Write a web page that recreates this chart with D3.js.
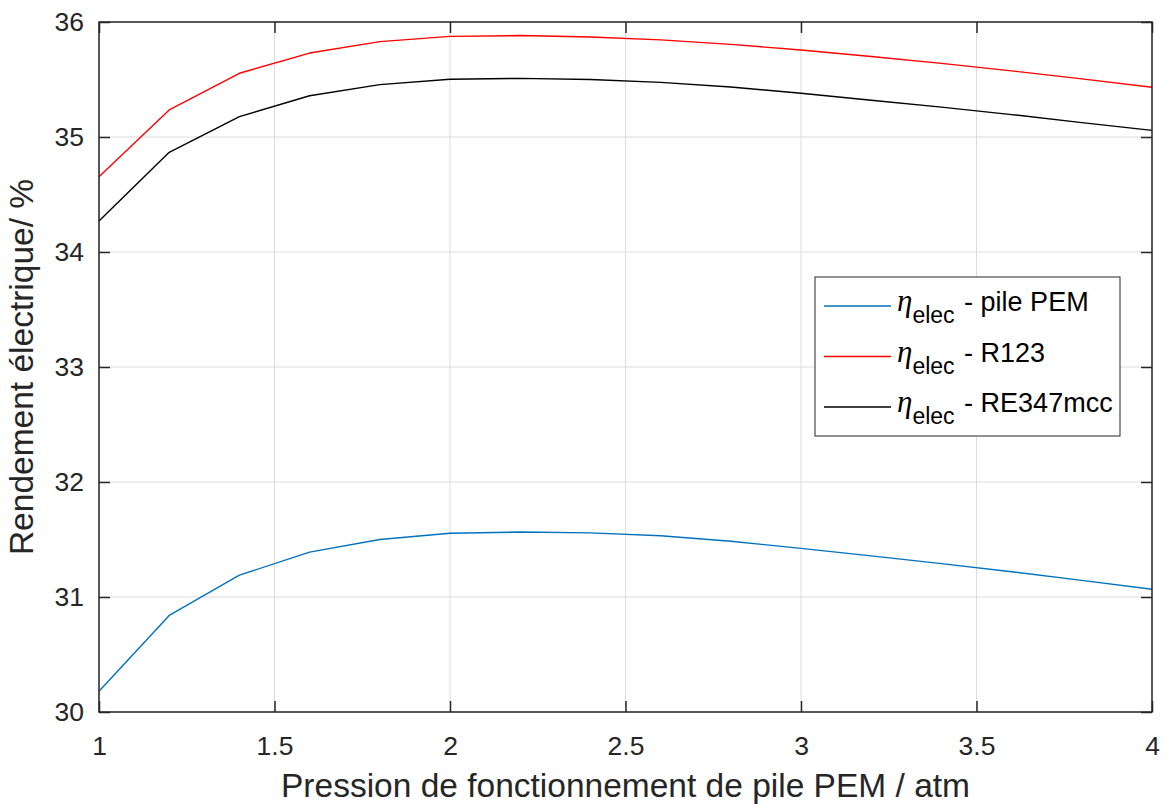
<!DOCTYPE html>
<html>
<head>
<meta charset="utf-8">
<script src="https://cdn.jsdelivr.net/npm/d3@7"></script>
<style>
  body { margin: 0; background: #fff; }
  svg { display: block; font-family: "Liberation Sans", Arial, sans-serif; }
</style>
</head>
<body>
<svg id="chart" width="1170" height="808"></svg>
<script>
// pressure (atm), sampled every 0.2
const pressure = [1, 1.2, 1.4, 1.6, 1.8, 2, 2.2, 2.4, 2.6, 2.8, 3, 3.2, 3.4, 3.6, 3.8, 4];
const effPEM    = [30.18, 30.84, 31.19, 31.39, 31.50, 31.554, 31.565, 31.558, 31.532, 31.485, 31.423, 31.358, 31.29, 31.22, 31.145, 31.067];
const effR123   = [34.655, 35.235, 35.554, 35.73, 35.829, 35.875, 35.882, 35.87, 35.845, 35.805, 35.757, 35.70, 35.64, 35.575, 35.505, 35.432];
const effRE347  = [34.27, 34.867, 35.177, 35.359, 35.455, 35.502, 35.51, 35.50, 35.475, 35.435, 35.38, 35.32, 35.26, 35.195, 35.125, 35.058];
const xTicks = [1, 1.5, 2, 2.5, 3, 3.5, 4];
const yTicks = [30, 31, 32, 33, 34, 35, 36];
const seriesNames = ['pile PEM', 'R123', 'RE347mcc'];
const seriesColors = ['#0072BD', '#FF0000', '#000000'];

const svg = d3.select('#chart');
const m = { left: 99, right: 1152, top: 22, bottom: 712 };
const ink = '#262626';

const x = d3.scaleLinear().domain([1, 4]).range([m.left, m.right]);
const y = d3.scaleLinear().domain([30, 36]).range([m.bottom, m.top]);

svg.append('rect').attr('width', 1170).attr('height', 808).attr('fill', '#fff');

// grid
const grid = svg.append('g').attr('stroke', '#dcdcdc').attr('stroke-width', 1);
grid.selectAll('.gx').data(xTicks).enter().append('line')
  .attr('x1', d => x(d)).attr('x2', d => x(d))
  .attr('y1', m.top).attr('y2', m.bottom);
grid.selectAll('.gy').data(yTicks).enter().append('line')
  .attr('x1', m.left).attr('x2', m.right)
  .attr('y1', d => y(d)).attr('y2', d => y(d));

// lines
const line = d3.line().x((d, i) => x(pressure[i])).y(d => y(d));
[effPEM, effR123, effRE347].forEach((vals, k) => {
  svg.append('path').datum(vals)
    .attr('fill', 'none')
    .attr('stroke', seriesColors[k])
    .attr('stroke-width', 1.4)
    .attr('stroke-linejoin', 'round')
    .attr('d', line);
});

// axes (ticks inside, MATLAB style box)
function styleAxis(g, labels) {
  g.select('.domain').remove();
  g.selectAll('.tick line').attr('stroke', ink).attr('stroke-width', 1.5);
  g.selectAll('.tick text').attr('fill', ink).attr('font-size', 26.5);
  if (!labels) g.selectAll('.tick text').remove();
}
svg.append('g').attr('transform', `translate(0,${m.bottom})`)
  .call(d3.axisBottom(x).tickValues(xTicks).tickSize(-11).tickPadding(24.2).tickFormat(d3.format('')))
  .call(g => styleAxis(g, true));
svg.append('g').attr('transform', `translate(0,${m.top})`)
  .call(d3.axisTop(x).tickValues(xTicks).tickSize(-11))
  .call(g => styleAxis(g, false));
svg.append('g').attr('transform', `translate(${m.left},0)`)
  .call(d3.axisLeft(y).tickValues(yTicks).tickSize(-11).tickPadding(15).tickFormat(d3.format('')))
  .call(g => styleAxis(g, true));
svg.append('g').attr('transform', `translate(${m.right},0)`)
  .call(d3.axisRight(y).tickValues(yTicks).tickSize(-11))
  .call(g => styleAxis(g, false));

svg.append('rect')
  .attr('x', m.left).attr('y', m.top)
  .attr('width', m.right - m.left).attr('height', m.bottom - m.top)
  .attr('fill', 'none').attr('stroke', ink).attr('stroke-width', 1.5);

// axis labels
svg.append('text')
  .attr('x', (m.left + m.right) / 2).attr('y', 797)
  .attr('text-anchor', 'middle').attr('font-size', 33.5).attr('fill', ink)
  .text('Pression de fonctionnement de pile PEM / atm');
svg.append('text')
  .attr('transform', `translate(33,${(m.top + m.bottom) / 2}) rotate(-90)`)
  .attr('text-anchor', 'middle').attr('font-size', 33.5).attr('fill', ink)
  .text('Rendement électrique/ %');

// legend
const lg = svg.append('g');
lg.append('rect').attr('x', 815).attr('y', 277).attr('width', 305).attr('height', 159)
  .attr('fill', '#fff').attr('stroke', ink).attr('stroke-width', 1);
seriesNames.forEach((name, i) => {
  const cy = 306 + i * 50.5;
  lg.append('line').attr('x1', 824).attr('x2', 891).attr('y1', cy).attr('y2', cy)
    .attr('stroke', seriesColors[i]).attr('stroke-width', 1.4);
  const t = lg.append('text').attr('x', 897).attr('y', cy + 5).attr('fill', '#000').attr('font-size', 27);
  t.append('tspan').attr('font-family', '"Liberation Serif", serif').attr('font-style', 'italic')
    .attr('font-size', 31).text('η');
  t.append('tspan').attr('font-size', 23).attr('dy', 12).text('elec');
  t.append('tspan').attr('dy', -12).attr('dx', 2).text(' - ' + name);
});
</script>
</body>
</html>
